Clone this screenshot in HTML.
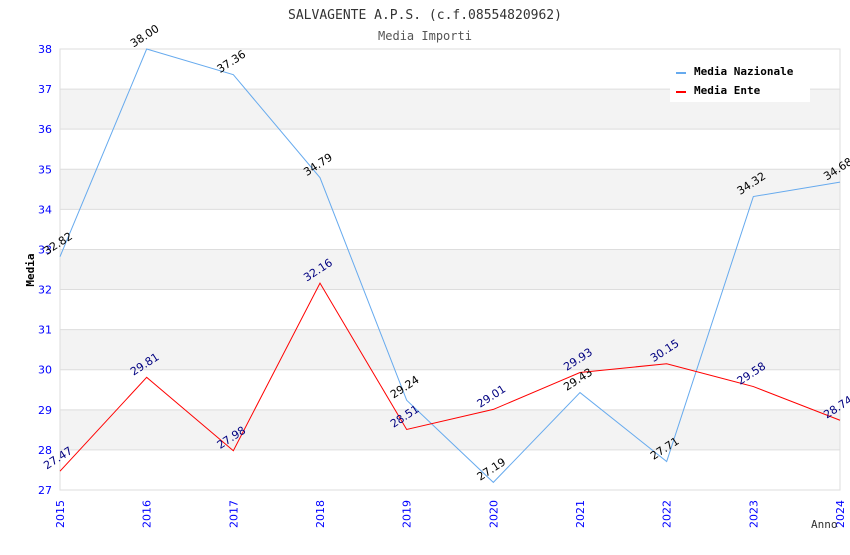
<!DOCTYPE html>
<html><head><meta charset="utf-8"><style>
body{margin:0;background:#fff}
svg text{font-family:"DejaVu Sans Mono","Liberation Mono",monospace}
svg text.s{font-family:"DejaVu Sans","Liberation Sans",sans-serif}
</style></head><body>
<svg id="chart" width="850" height="550" xmlns="http://www.w3.org/2000/svg">
<text x="425" y="19" text-anchor="middle" font-size="13" fill="#333">SALVAGENTE A.P.S. (c.f.08554820962)</text>
<text x="425" y="40" text-anchor="middle" font-size="12" fill="#555">Media Importi</text>
<g id="grid"></g><g id="series"></g><g id="labels"></g>
<text x="34" y="270" transform="rotate(-90 34 270)" text-anchor="middle" font-size="11" font-weight="bold" fill="#000">Media</text>
<text x="811" y="528" font-size="11" fill="#333">Anno</text>
<g>
<rect x="670" y="60" width="140" height="42" fill="#fff"/>
<line x1="676" y1="73" x2="686" y2="73" stroke="#66aaee" stroke-width="2"/>
<text x="694" y="75" font-size="11" font-weight="bold" fill="#000">Media Nazionale</text>
<line x1="676" y1="92" x2="686" y2="92" stroke="#ff0000" stroke-width="2"/>
<text x="694" y="94" font-size="11" font-weight="bold" fill="#000">Media Ente</text>
</g>
</svg>
<script>
const years=[2015,2016,2017,2018,2019,2020,2021,2022,2023,2024];
const nazionale=[32.82,38.00,37.36,34.79,29.24,27.19,29.43,27.71,34.32,34.68];
const ente=[27.47,29.81,27.98,32.16,28.51,29.01,29.93,30.15,29.58,28.74];
const yTicks=[27,28,29,30,31,32,33,34,35,36,37,38];
const shadedBands=[28,30,32,34,36];
const NS="http://www.w3.org/2000/svg";
const X0=60,X1=840,Y0=490,Y1=49,YMIN=27,YMAX=38;
const xs=i=>X0+(X1-X0)*i/(years.length-1);
const ys=v=>Y0-(Y0-Y1)*(v-YMIN)/(YMAX-YMIN);
function mk(tag,attrs,parent){const e=document.createElementNS(NS,tag);for(const k in attrs)e.setAttribute(k,attrs[k]);parent.appendChild(e);return e;}
const grid=document.getElementById('grid'),series=document.getElementById('series'),labels=document.getElementById('labels');
shadedBands.forEach(b=>{const r=mk('rect',{x:X0,y:ys(b+1),width:X1-X0,height:ys(b)-ys(b+1),fill:'#f3f3f3'},grid);

});
yTicks.forEach(t=>{const l=mk('line',{x1:X0,x2:X1,y1:ys(t),y2:ys(t),stroke:'#dddddd'},grid);


const tx=mk('text',{x:52,y:ys(t)+4,'text-anchor':'end','font-size':11,fill:'#0000ff',class:'s'},grid);tx.textContent=t;

});
const fr=mk('rect',{x:X0,y:Y1,width:X1-X0,height:Y0-Y1,fill:'none',stroke:'#dddddd'},grid);


years.forEach((y,i)=>{const x=xs(i);const t=mk('text',{x:x+4,y:500,transform:`rotate(-90 ${x+4} 500)`,'text-anchor':'end','font-size':11,fill:'#0000ff',class:'s'},grid);t.textContent=y;

});
function drawSeries(vals,color,labelColor,name){
const p=mk('polyline',{points:vals.map((v,i)=>xs(i)+','+ys(v)).join(' '),fill:'none',stroke:color,'stroke-width':1},series);


vals.forEach((v,i)=>{const x=xs(i),y=ys(v)-10;const t=mk('text',{x:x,y:y,transform:`rotate(-33 ${x} ${y})`,'text-anchor':'middle','font-size':11,fill:labelColor,class:'s'},labels);t.textContent=v.toFixed(2);

});}
drawSeries(nazionale,'#66aaee','#000','nazionale');
drawSeries(ente,'#ff0000','#000080','ente');
</script>
</body></html>
